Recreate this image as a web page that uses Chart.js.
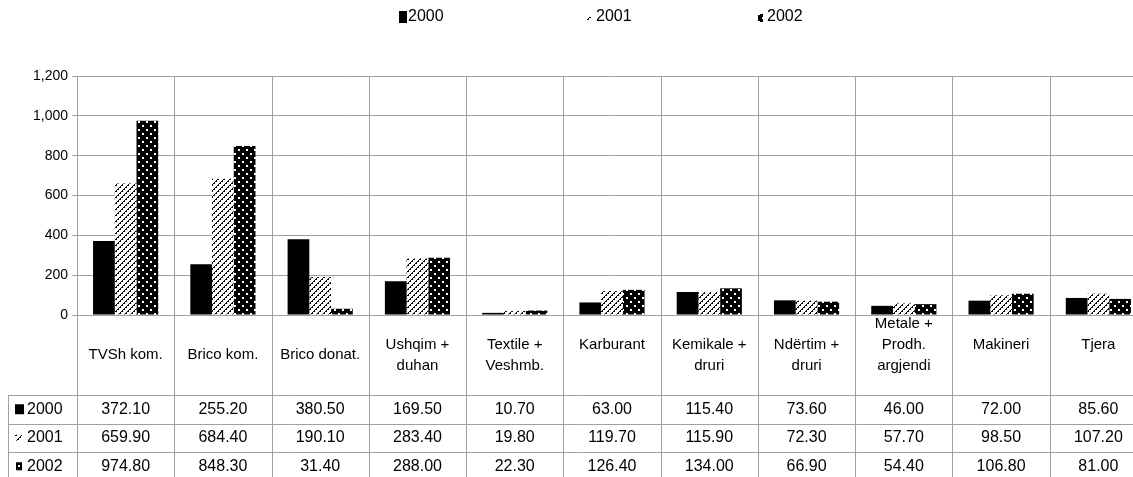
<!DOCTYPE html>
<html>
<head>
<meta charset="utf-8">
<script src="https://cdn.jsdelivr.net/npm/chart.js@4.4.1/dist/chart.umd.min.js"></script>
<style>
    html, body { margin: 0; padding: 0; background: #fff; overflow: hidden; }
    #wrap { width: 1147px; height: 477px; }
</style>
</head>
<body>
<div id="wrap"><canvas id="chart" width="1147" height="477"></canvas></div>
<script>
// category labels (lines as they wrap in the data table)
const categories = [
    ['TVSh kom.'], ['Brico kom.'], ['Brico donat.'],
    ['Ushqim +', 'duhan'], ['Textile +', 'Veshmb.'], ['Karburant', ''],
    ['Kemikale +', 'druri'], ['Ndërtim +', 'druri'],
    ['Metale +', 'Prodh.', 'argjendi', ''], ['Makineri', ''], ['Tjera', '']
];
const years = ['2000', '2001', '2002'];
const values2000 = [372.10, 255.20, 380.50, 169.50, 10.70, 63.00, 115.40, 73.60, 46.00, 72.00, 85.60];
const values2001 = [659.90, 684.40, 190.10, 283.40, 19.80, 119.70, 115.90, 72.30, 57.70, 98.50, 107.20];
const values2002 = [974.80, 848.30, 31.40, 288.00, 22.30, 126.40, 134.00, 66.90, 54.40, 106.80, 81.00];
const yTicks = [0, 200, 400, 600, 800, 1000, 1200];

const FONT = "'Liberation Sans', Arial, sans-serif";
const GRID = '#a0a0a0';

function makePattern(kind) {
    const s = kind === 'dots' ? 8 : 6;
    const c = document.createElement('canvas');
    c.width = s;
    c.height = s;
    const g = c.getContext('2d');
    const img = g.createImageData(s, s);
    for (let y = 0; y < s; y++) {
        for (let x = 0; x < s; x++) {
            let black;
            if (kind === 'dots') {
                const white = ((x === 2 || x === 3) && (y === 1 || y === 2)) ||
                              ((x === 6 || x === 7) && (y === 5 || y === 6));
                black = !white;
            } else {
                // broken diagonal dashes
                const d = (x + y) % s;
                black = d === 0 || (d === 1 && x % 2 === 0);
            }
            const i = (y * s + x) * 4;
            const v = black ? 0 : 255;
            img.data[i] = v; img.data[i + 1] = v; img.data[i + 2] = v; img.data[i + 3] = 255;
        }
    }
    g.putImageData(img, 0, 0);
    return document.getElementById('chart').getContext('2d').createPattern(c, 'repeat');
}

const fills = ['#000000', makePattern('stripes'), makePattern('dots')];
const seriesValues = [values2000, values2001, values2002];

function drawMarker(ctx, idx, x, yMid) {
    ctx.fillStyle = fills[idx];
    if (idx === 0) ctx.fillRect(x, yMid - 5, 9, 10);
    else if (idx === 1) ctx.fillRect(x, yMid - 3, 7, 6);
    else ctx.fillRect(x + 1, yMid - 4, 6, 8);
}

const tablePlugin = {
    id: 'dataTable',
    afterDraw(chart) {
        const ctx = chart.ctx;
        const area = chart.chartArea;
        const xs = chart.scales.x;
        const n = categories.length;
        const colW = (area.right - area.left) / n;
        const headerTop = area.bottom;
        const headerH = 80;
        const rowH = 28.5;
        const bottom = chart.height;

        ctx.save();
        ctx.strokeStyle = GRID;
        ctx.lineWidth = 1;
        // column separators from plot top down through the table
        for (let k = 0; k <= n; k++) {
            const x = Math.round(area.left + k * colW) + 0.5;
            ctx.beginPath();
            ctx.moveTo(x, area.top);
            ctx.lineTo(x, bottom);
            ctx.stroke();
        }
        // row lines
        for (let r = 0; r < years.length; r++) {
            const y = Math.round(headerTop + headerH + r * rowH) + 0.5;
            ctx.beginPath();
            ctx.moveTo(8, y);
            ctx.lineTo(chart.width, y);
            ctx.stroke();
        }
        ctx.beginPath();
        ctx.moveTo(8.5, headerTop + headerH);
        ctx.lineTo(8.5, bottom);
        ctx.stroke();

        // category labels
        ctx.fillStyle = '#000';
        ctx.textAlign = 'center';
        ctx.textBaseline = 'middle';
        ctx.font = '15px ' + FONT;
        const lh = 21;
        categories.forEach((lines, i) => {
            const cx = xs.getPixelForValue(i);
            const cy = headerTop + headerH / 2;
            const y0 = cy - (lines.length - 1) * lh / 2;
            lines.forEach((t, j) => ctx.fillText(t, cx, y0 + j * lh));
        });

        // values
        ctx.font = '16px ' + FONT;
        seriesValues.forEach((vals, r) => {
            const cy = headerTop + headerH + r * rowH + rowH / 2;
            vals.forEach((v, i) => {
                ctx.fillText(v.toFixed(2), xs.getPixelForValue(i), cy);
            });
            drawMarker(ctx, r, 15, cy);
            ctx.fillStyle = '#000';
            ctx.textAlign = 'left';
            ctx.fillText(years[r], 27, cy);
            ctx.textAlign = 'center';
        });

        // legend on top
        const legendX = [399, 587, 758];
        ctx.textAlign = 'left';
        ctx.font = '16px ' + FONT;
        years.forEach((yr, i) => {
            const x = legendX[i];
            const cy = 17;
            ctx.fillStyle = fills[i];
            if (i === 0) ctx.fillRect(x, cy - 6, 8, 12);
            else if (i === 1) ctx.fillRect(x, cy, 4, 4);
            else ctx.fillRect(x, cy - 3, 5, 8);
            ctx.fillStyle = '#000';
            ctx.fillText(yr, x + 9, cy);
        });
        ctx.restore();
    }
};

new Chart(document.getElementById('chart'), {
    type: 'bar',
    data: {
        labels: categories.map(c => c.filter(s => s).join(' ')),
        datasets: years.map((yr, i) => ({
            label: yr,
            data: seriesValues[i],
            backgroundColor: fills[i],
            borderWidth: 0,
            categoryPercentage: 0.67,
            barPercentage: 1.0
        }))
    },
    options: {
        responsive: false,
        animation: false,
        devicePixelRatio: 1,
        layout: { padding: { top: 76, bottom: 162, left: 0, right: 0 } },
        plugins: { legend: { display: false }, tooltip: { enabled: false } },
        scales: {
            x: { display: false },
            y: {
                min: 0,
                max: 1200,
                afterFit(scale) { scale.width = 77; },
                afterBuildTicks(scale) { scale.ticks = yTicks.map(v => ({ value: v })); },
                ticks: {
                    color: '#000',
                    padding: 4,
                    font: { family: FONT, size: 14 },
                    callback: v => v.toLocaleString('en-US')
                },
                grid: { color: GRID, tickLength: 5, drawTicks: true },
                border: { display: true, color: GRID }
            }
        }
    },
    plugins: [tablePlugin]
});
</script>
</body>
</html>
